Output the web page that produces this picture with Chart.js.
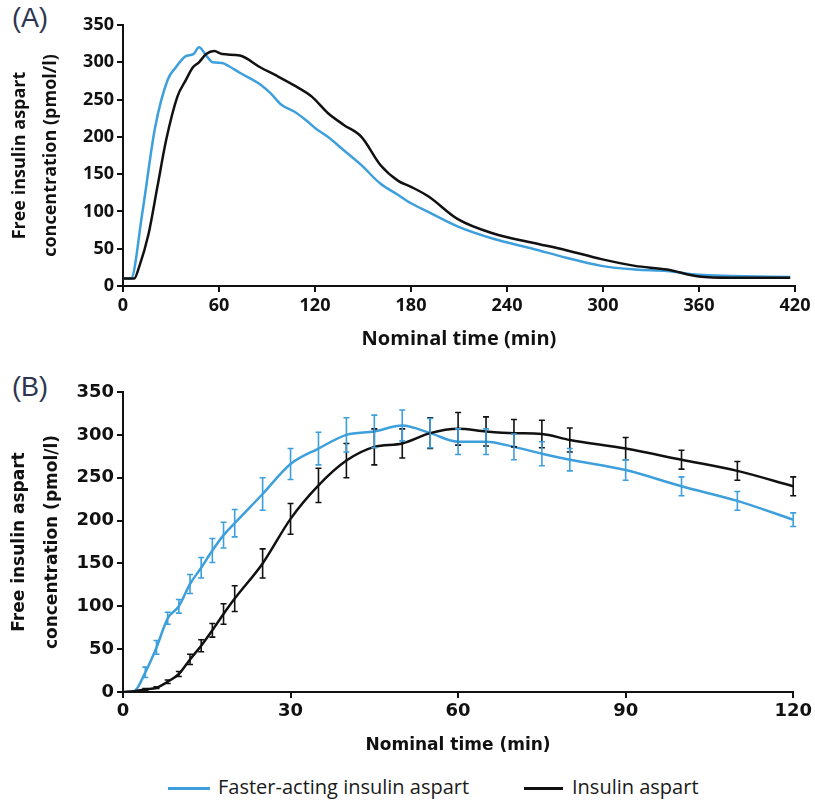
<!DOCTYPE html>
<html>
<head>
<meta charset="utf-8">
<script src="https://cdn.jsdelivr.net/npm/chart.js@4"></script>
<style>
  body { margin: 0; background: #fff; width: 815px; height: 800px; position: relative; overflow: hidden; }
  canvas { position: absolute; left: 0; }
  #chartA { top: 0; }
  #chartB { top: 360px; }
  .panel { position: absolute; left: 12px; font-family: "Liberation Sans", Arial, sans-serif; font-size: 27px; color: #2d3550; }
  .swatch { position: absolute; height: 3px; top: 787px; }
  .legtext { position: absolute; top: 773px; font-family: "Open Sans", sans-serif; font-size: 20px; color: #1a1a1a; }
</style>
</head>
<body>
<div class="panel" style="top:3px">(A)</div>
<div class="panel" style="top:372px">(B)</div>
<canvas id="chartA" width="815" height="355"></canvas>
<canvas id="chartB" width="815" height="400"></canvas>
<div class="swatch" style="left:168px;width:42px;background:#3d9fdc"></div>
<div class="legtext" style="left:218px">Faster-acting insulin aspart</div>
<div class="swatch" style="left:524px;width:39px;background:#111"></div>
<div class="legtext" style="left:572px">Insulin aspart</div>
<script>
// Panel A: 0-420 min profile
const timeA = [0, 5, 12, 20, 28, 33, 39, 44, 47.5, 52, 56, 62, 66, 73, 86, 92, 99, 107, 114, 120, 128, 138, 149, 161, 172, 180, 191, 209, 232, 256, 277, 299, 320, 340, 360, 380, 417];
const fasterA = [10, 10, 97, 212, 277, 293, 308, 311, 320, 309, 300, 299, 295, 286, 270, 259, 243, 234, 223, 212, 200, 182, 162, 137, 122, 111, 99, 80, 63, 50, 38, 27, 22, 20, 15, 13.5, 12];
const timeA2 = [0, 7, 10, 16, 21.5, 27, 34, 39, 43.6, 47.5, 52, 57, 62, 73, 86, 96, 107, 118, 128, 138, 149, 161, 172, 180, 191, 209, 232, 256, 277, 299, 320, 340, 360, 380, 417];
const aspartA = [10, 10, 25, 70, 133, 196, 254, 275, 293, 300, 311, 315, 311, 309, 293, 282, 269, 254, 232, 216, 200, 162, 141, 133, 120, 90, 70, 58, 48, 36, 27, 22, 12.6, 11, 11];
const xTicksA = [0, 60, 120, 180, 240, 300, 360, 420];

// Panel B: first 120 min, mean with error bars
const timeB = [0, 2, 4, 6, 8, 10, 12, 14, 16, 18, 20, 25, 30, 35, 40, 45, 50, 55, 60, 65, 70, 75, 80, 90, 100, 110, 120];
const fasterB = [0, 1, 23, 52, 86, 100, 126, 145, 165, 183, 197, 231, 266, 284, 300, 304, 311, 302, 292, 292, 286, 278, 271, 259, 240, 223, 201];
const fasterErrB = [0, 0, 6, 8, 7, 8, 11, 12, 14, 15, 16, 19, 18, 19, 20, 19, 18, 17, 15, 15, 15, 14, 13, 12, 11, 11, 8];
const aspartB = [0, 1, 3, 5, 12, 21, 38, 54, 72, 91, 109, 150, 202, 241, 270, 286, 290, 302, 307, 304, 302, 301, 294, 284, 271, 258, 240];
const aspartErrB = [0, 0, 1, 1, 2, 3, 6, 7, 8, 12, 15, 17, 18, 20, 20, 21, 17, 18, 19, 17, 16, 16, 14, 13, 11, 11, 11];
const xTicksB = [0, 30, 60, 90, 120];

const yTicks = [0, 50, 100, 150, 200, 250, 300, 350];

const blue = "#3d9fdc";
const black = "#111111";

const pts = (xs, ys) => xs.map((x, i) => ({ x: x, y: ys[i] }));

// draws the vertical error bars of panel B through the chart scales
const errorBars = {
  id: "errorBars",
  afterDatasetsDraw(chart) {
    const { ctx, scales } = chart;
    chart.data.datasets.forEach((ds) => {
      if (!ds.errors) return;
      ctx.save();
      ctx.strokeStyle = ds.borderColor;
      ctx.lineWidth = 1.6;
      ds.data.forEach((p, i) => {
        const e = ds.errors[i];
        if (!e) return;
        const px = scales.x.getPixelForValue(p.x);
        const top = scales.y.getPixelForValue(p.y + e);
        const bot = scales.y.getPixelForValue(p.y - e);
        ctx.beginPath();
        ctx.moveTo(px, top); ctx.lineTo(px, bot);
        ctx.moveTo(px - 3, top); ctx.lineTo(px + 3, top);
        ctx.moveTo(px - 3, bot); ctx.lineTo(px + 3, bot);
        ctx.stroke();
      });
      ctx.restore();
    });
  },
};

function axes(opts) {
  return {
    x: {
      type: "linear",
      min: 0,
      max: opts.xMax,
      afterBuildTicks: (s) => { s.ticks = opts.xTicks.map((v) => ({ value: v })); },
      afterFit: (s) => { s.height = opts.xHeight; },
      grid: { drawOnChartArea: false, color: black, lineWidth: 2, tickLength: 6 },
      border: { color: black, width: 2 },
      ticks: { color: black, font: opts.tickFont, padding: 3, maxRotation: 0 },
      title: { display: true, text: "Nominal time (min)", color: black, font: opts.xTitleFont, padding: { bottom: opts.xTitlePad } },
    },
    y: {
      min: 0,
      max: 350,
      afterBuildTicks: (s) => { s.ticks = yTicks.map((v) => ({ value: v })); },
      afterFit: (s) => { s.width = 123; },
      grid: { drawOnChartArea: false, color: black, lineWidth: 2, tickLength: 6 },
      border: { color: black, width: 2 },
      ticks: { color: black, font: opts.tickFont, padding: 3 },
      title: {
        display: true,
        text: ["Free insulin aspart", "concentration (pmol/l)"],
        color: black,
        font: opts.yTitleFont,
        padding: { top: opts.yTitlePad },
      },
    },
  };
}

new Chart(document.getElementById("chartA"), {
  type: "line",
  data: {
    datasets: [
      { label: "Insulin aspart", data: pts(timeA2, aspartA), borderColor: black, borderWidth: 2.5, pointRadius: 0, cubicInterpolationMode: "monotone" },
      { label: "Faster-acting insulin aspart", data: pts(timeA, fasterA), borderColor: blue, borderWidth: 2.5, pointRadius: 0, cubicInterpolationMode: "monotone" },
    ],
  },
  options: {
    responsive: false,
    animation: false,
    layout: { padding: { top: 25, right: 20, left: 0, bottom: 0 } },
    plugins: { legend: { display: false }, tooltip: { enabled: false } },
    scales: axes({
      xMax: 420,
      xTicks: xTicksA,
      xHeight: 69,
      tickFont: { family: "Open Sans", weight: "bold", size: 18 },
      xTitleFont: { family: "Open Sans", weight: "bold", size: 20 },
      xTitlePad: 4,
      yTitleFont: { family: "Open Sans", weight: "bold", size: 18, lineHeight: 1.7 },
      yTitlePad: 5,
    }),
  },
});

new Chart(document.getElementById("chartB"), {
  type: "line",
  data: {
    datasets: [
      { label: "Insulin aspart", data: pts(timeB, aspartB), errors: aspartErrB, borderColor: black, borderWidth: 2.5, pointRadius: 0, cubicInterpolationMode: "monotone" },
      { label: "Faster-acting insulin aspart", data: pts(timeB, fasterB), errors: fasterErrB, borderColor: blue, borderWidth: 2.5, pointRadius: 0, cubicInterpolationMode: "monotone" },
    ],
  },
  options: {
    responsive: false,
    animation: false,
    layout: { padding: { top: 32, right: 21, left: 0, bottom: 0 } },
    plugins: { legend: { display: false }, tooltip: { enabled: false } },
    scales: axes({
      xMax: 120,
      xTicks: xTicksB,
      xHeight: 68,
      tickFont: { family: "DejaVu Sans", weight: "bold", size: 18 },
      xTitleFont: { family: "DejaVu Sans", weight: "bold", size: 17 },
      xTitlePad: 4,
      yTitleFont: { family: "DejaVu Sans", weight: "bold", size: 17, lineHeight: 1.95 },
      yTitlePad: 3,
    }),
  },
  plugins: [errorBars],
});
</script>
</body>
</html>
